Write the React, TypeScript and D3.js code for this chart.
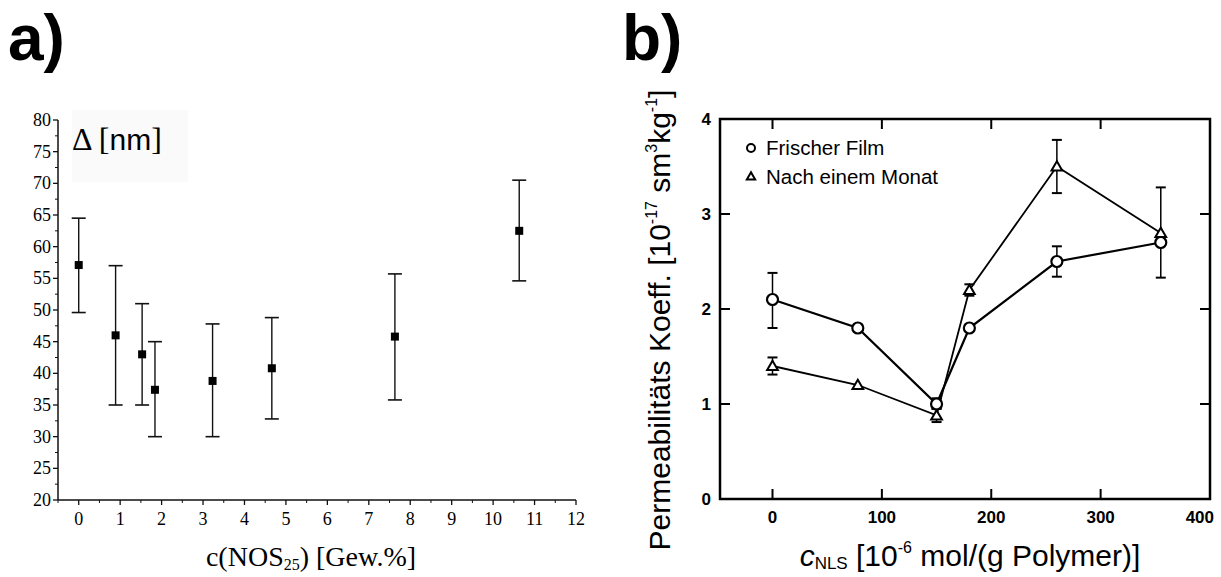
import React from "react";
import * as d3 from "d3";

// ---------- Panel a data ----------
const aX = [0, 0.89, 1.53, 1.84, 3.23, 4.66, 7.63, 10.63];
const aY = [57.1, 46, 43, 37.4, 38.8, 40.8, 45.8, 62.5];
const aYHigh = [64.5, 57, 51, 45, 47.8, 48.8, 55.7, 70.5];
const aYLow = [49.6, 35, 35, 30, 30, 32.8, 35.8, 54.6];
const aXTicks = [0, 1, 2, 3, 4, 5, 6, 7, 8, 9, 10, 11, 12];
const aYTicks = [20, 25, 30, 35, 40, 45, 50, 55, 60, 65, 70, 75, 80];

// ---------- Panel b data ----------
const bX = [0, 78, 150, 180, 260, 355];
const freshY = [2.1, 1.8, 1.0, 1.8, 2.5, 2.7];
const freshHigh = [2.38, 1.8, 1.06, 1.8, 2.66, 2.7];
const freshLow = [1.8, 1.8, 0.95, 1.8, 2.34, 2.7];
const monthY = [1.4, 1.2, 0.88, 2.2, 3.5, 2.8];
const monthHigh = [1.49, 1.2, 0.95, 2.26, 3.78, 3.28];
const monthLow = [1.31, 1.2, 0.81, 2.14, 3.22, 2.33];
const bXTicks = [0, 100, 200, 300, 400];
const bYTicks = [0, 1, 2, 3, 4];
const legendLabels = ["Frischer Film", "Nach einem Monat"];

const SERIF = "'Liberation Serif', 'DejaVu Serif', serif";
const SANS = "'Liberation Sans', Arial, sans-serif";

function PanelA() {
  const x = d3.scaleLinear().domain([-0.5, 12]).range([58, 576]);
  const y = d3.scaleLinear().domain([20, 80]).range([500, 120]);
  const minorX = d3.range(-0.5, 12.01, 0.5).filter((v) => Math.abs(v - Math.round(v)) > 0.01);
  const minorY = d3.range(22.5, 80, 5);
  const cap = 7;
  return (
    <g>
      <text x={8} y={60} fontFamily={SANS} fontWeight="bold" fontSize={64}>a)</text>
      <rect x={72} y={110} width={116} height={72} fill="#fafafa" />
      <text x={72} y={150} fontFamily={SERIF} fontSize={32}>
        <tspan>Δ [</tspan><tspan fontFamily={SANS} fontSize={30}>nm</tspan><tspan>]</tspan>
      </text>
      {/* axes */}
      <line x1={x(-0.5)} x2={x(-0.5)} y1={y(20)} y2={y(80)} stroke="#111" strokeWidth={1.5} />
      <line x1={x(-0.5)} x2={x(12)} y1={y(20)} y2={y(20)} stroke="#111" strokeWidth={1.5} />
      {aYTicks.map((t) => (
        <g key={"ay" + t}>
          <line x1={x(-0.5) - 5} x2={x(-0.5)} y1={y(t)} y2={y(t)} stroke="#111" strokeWidth={1.3} />
          <text x={x(-0.5) - 7} y={y(t) + 6} textAnchor="end" fontFamily={SERIF} fontSize={18}>{t}</text>
        </g>
      ))}
      {minorY.map((t) => (
        <line key={"amy" + t} x1={x(-0.5) - 3} x2={x(-0.5)} y1={y(t)} y2={y(t)} stroke="#111" strokeWidth={1} />
      ))}
      {aXTicks.map((t) => (
        <g key={"ax" + t}>
          <line x1={x(t)} x2={x(t)} y1={y(20)} y2={y(20) + 5} stroke="#111" strokeWidth={1.3} />
          <text x={x(t)} y={y(20) + 25} textAnchor="middle" fontFamily={SERIF} fontSize={18}>{t}</text>
        </g>
      ))}
      {minorX.map((t) => (
        <line key={"amx" + t} x1={x(t)} x2={x(t)} y1={y(20)} y2={y(20) + 3} stroke="#111" strokeWidth={1} />
      ))}
      <text x={311} y={566} textAnchor="middle" fontFamily={SERIF} fontSize={28}>
        <tspan>c(NOS</tspan>
        <tspan fontSize={16} dy={4}>25</tspan>
        <tspan dy={-4}>) [Gew.%]</tspan>
      </text>
      {/* data */}
      {aX.map((v, i) => (
        <g key={"ad" + i}>
          <line x1={x(v)} x2={x(v)} y1={y(aYLow[i])} y2={y(aYHigh[i])} stroke="#111" strokeWidth={1.4} />
          <line x1={x(v) - cap} x2={x(v) + cap} y1={y(aYLow[i])} y2={y(aYLow[i])} stroke="#111" strokeWidth={1.6} />
          <line x1={x(v) - cap} x2={x(v) + cap} y1={y(aYHigh[i])} y2={y(aYHigh[i])} stroke="#111" strokeWidth={1.6} />
          <rect x={x(v) - 4} y={y(aY[i]) - 4} width={8} height={8} fill="#000" />
        </g>
      ))}
    </g>
  );
}

function Triangle({ cx, cy, s }: { cx: number; cy: number; s: number }) {
  const p = d3.symbol().type(d3.symbolTriangle).size(s)();
  return <path d={p || ""} transform={`translate(${cx},${cy + 1})`} fill="#fff" stroke="#000" strokeWidth={2} />;
}

function PanelB() {
  const x = d3.scaleLinear().domain([-48, 400]).range([720, 1210]);
  const y = d3.scaleLinear().domain([0, 4]).range([499, 119]);
  const line = d3.line<number>().x((_, i) => x(bX[i])).y((d) => y(d));
  const tl = 10;
  const cap = 5;
  const errBars = (hi: number[], lo: number[], key: string) =>
    bX.map((v, i) =>
      hi[i] - lo[i] > 0.01 ? (
        <g key={key + i}>
          <line x1={x(v)} x2={x(v)} y1={y(lo[i])} y2={y(hi[i])} stroke="#000" strokeWidth={1.5} />
          <line x1={x(v) - cap} x2={x(v) + cap} y1={y(lo[i])} y2={y(lo[i])} stroke="#000" strokeWidth={2} />
          <line x1={x(v) - cap} x2={x(v) + cap} y1={y(hi[i])} y2={y(hi[i])} stroke="#000" strokeWidth={2} />
        </g>
      ) : null
    );
  return (
    <g>
      <text x={622} y={60} fontFamily={SANS} fontWeight="bold" fontSize={64}>b)</text>
      {/* frame */}
      <rect x={x(-48)} y={y(4)} width={x(400) - x(-48)} height={y(0) - y(4)} fill="none" stroke="#000" strokeWidth={2.5} />
      {bYTicks.map((t) => (
        <g key={"by" + t}>
          {t > 0 && t < 4 && (
            <>
              <line x1={x(-48)} x2={x(-48) + tl} y1={y(t)} y2={y(t)} stroke="#000" strokeWidth={2} />
              <line x1={x(400)} x2={x(400) - tl} y1={y(t)} y2={y(t)} stroke="#000" strokeWidth={2} />
            </>
          )}
          <text x={x(-48) - 9} y={y(t) + 6} textAnchor="end" fontFamily={SANS} fontWeight="bold" fontSize={17}>{t}</text>
        </g>
      ))}
      {bXTicks.map((t, i) => (
        <g key={"bx" + t}>
          {t < 400 && (
            <>
              <line x1={x(t)} x2={x(t)} y1={y(0)} y2={y(0) - tl} stroke="#000" strokeWidth={2} />
              <line x1={x(t)} x2={x(t)} y1={y(4)} y2={y(4) + tl} stroke="#000" strokeWidth={2} />
            </>
          )}
          <text
            x={i === bXTicks.length - 1 ? x(t) + 4 : x(t)}
            y={y(0) + 24}
            textAnchor={i === bXTicks.length - 1 ? "end" : "middle"}
            fontFamily={SANS}
            fontWeight="bold"
            fontSize={17}
          >
            {t}
          </text>
        </g>
      ))}
      {/* axis titles */}
      <text x={970} y={566} textAnchor="middle" fontFamily={SANS} fontSize={30}>
        <tspan fontStyle="italic">c</tspan>
        <tspan fontSize={17} dy={3}>NLS</tspan>
        <tspan dy={-3}> [10</tspan>
        <tspan fontSize={16} dy={-13}>-6</tspan>
        <tspan dy={13}> mol/(g Polymer)]</tspan>
      </text>
      <text transform="translate(670,320) rotate(-90)" textAnchor="middle" fontFamily={SANS} fontSize={30}>
        <tspan>Permeabilitäts Koeff. [10</tspan>
        <tspan fontSize={16} dy={-13}>-17</tspan>
        <tspan dy={13}> sm</tspan>
        <tspan fontSize={16} dy={-13}>3</tspan>
        <tspan dy={13}>kg</tspan>
        <tspan fontSize={16} dy={-13}>-1</tspan>
        <tspan dy={13}>]</tspan>
      </text>
      {/* legend */}
      <circle cx={751} cy={148} r={4} fill="#fff" stroke="#000" strokeWidth={2} />
      <text x={766} y={155} fontFamily={SANS} fontSize={20.5}>{legendLabels[0]}</text>
      <Triangle cx={751} cy={176} s={30} />
      <text x={766} y={184} fontFamily={SANS} fontSize={20.5}>{legendLabels[1]}</text>
      {/* series */}
      {errBars(freshHigh, freshLow, "fe")}
      {errBars(monthHigh, monthLow, "me")}
      <path d={line(freshY) || ""} fill="none" stroke="#000" strokeWidth={2.2} />
      <path d={line(monthY) || ""} fill="none" stroke="#000" strokeWidth={1.8} />
      {bX.map((v, i) => (
        <circle key={"fc" + i} cx={x(v)} cy={y(freshY[i])} r={5.5} fill="#fff" stroke="#000" strokeWidth={2.2} />
      ))}
      {bX.map((v, i) => (
        <Triangle key={"mt" + i} cx={x(v)} cy={y(monthY[i])} s={50} />
      ))}
    </g>
  );
}

export default function App() {
  return (
    <svg width={1221} height={577} style={{ position: "absolute", left: 0, top: 0, background: "#fff" }}>
      <rect width={1221} height={577} fill="#fff" />
      <PanelA />
      <PanelB />
    </svg>
  );
}
